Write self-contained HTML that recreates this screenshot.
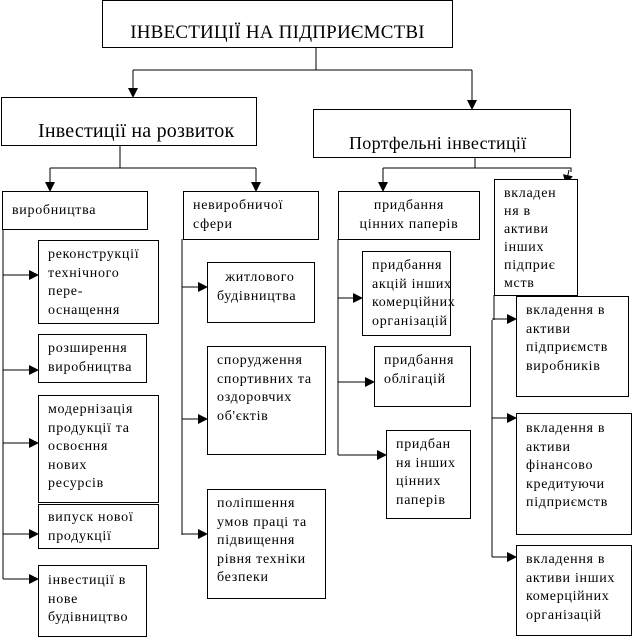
<!DOCTYPE html>
<html><head><meta charset="utf-8"><style>
body{margin:0;width:635px;height:638px;background:#fff;position:relative;overflow:hidden;font-family:"Liberation Serif",serif;color:#000}
.b{position:absolute;border:1px solid #000;box-sizing:border-box;background:#fff;font-size:14px;letter-spacing:0.7px;line-height:18.5px;padding:6px 0 0 9px;white-space:nowrap}
svg{position:absolute;left:0;top:0}
</style></head><body>
<svg width="635" height="638">
<defs><marker id="a" markerWidth="10" markerHeight="10" refX="9" refY="5" orient="auto" markerUnits="userSpaceOnUse"><path d="M0,0 L10,5 L0,10z" fill="#000"/></marker></defs>
<g stroke="#000" stroke-width="1" fill="none">
<path d="M316,47V70M133,70H472"/>
<path d="M133,70V97" marker-end="url(#a)"/><path d="M472,70V109" marker-end="url(#a)"/>
<path d="M120,145V168M50,168H256"/>
<path d="M50,168V191" marker-end="url(#a)"/><path d="M256,168V191" marker-end="url(#a)"/>
<path d="M475,157V168M383,168H571V172"/>
<path d="M383,168V191" marker-end="url(#a)"/><path d="M569,170L566,184" marker-end="url(#a)"/>
<path d="M3,229V579"/>
<path d="M3,275H38" marker-end="url(#a)"/><path d="M3,370H38" marker-end="url(#a)"/><path d="M3,443H38" marker-end="url(#a)"/><path d="M3,534H38" marker-end="url(#a)"/><path d="M3,579H38" marker-end="url(#a)"/>
<path d="M182,239V535"/>
<path d="M182,287H207" marker-end="url(#a)"/><path d="M182,419H207" marker-end="url(#a)"/><path d="M182,534H207" marker-end="url(#a)"/>
<path d="M338,239V455"/>
<path d="M338,298H362" marker-end="url(#a)"/><path d="M338,382H374" marker-end="url(#a)"/><path d="M338,455H386" marker-end="url(#a)"/>
<path d="M494,295V320M492,320V557"/>
<path d="M492,319H516" marker-end="url(#a)"/><path d="M492,418H516" marker-end="url(#a)"/><path d="M492,557H516" marker-end="url(#a)"/>
</g></svg>
<div class="b" style="left:102px;top:0;width:351px;height:48px;font-size:19px;letter-spacing:0.2px;padding:0;text-align:center;line-height:64px">ІНВЕСТИЦІЇ НА ПІДПРИЄМСТВІ</div>
<div class="b" style="left:1px;top:97px;width:256px;height:49px;font-size:20px;letter-spacing:0.2px;padding:0 0 0 36px;line-height:66px">Інвестиції на розвиток</div>
<div class="b" style="left:313px;top:109px;width:258px;height:49px;font-size:18px;letter-spacing:0.3px;padding:0 0 0 35px;line-height:66px">Портфельні інвестиції</div>
<div class="b" style="left:2px;top:191px;width:146px;height:39px;padding-top:10px">виробництва</div>
<div class="b" style="left:183px;top:191px;width:136px;height:49px;padding-top:5px">невиробничої<br>сфери</div>
<div class="b" style="left:338px;top:191px;width:142px;height:49px;padding:5px 0 0;text-align:center">придбання<br>цінних паперів</div>
<div class="b" style="left:494px;top:179px;width:84px;height:117px;line-height:18px;padding-top:5px">вкладен<br>ня в<br>активи<br>інших<br>підприє<br>мств</div>
<div class="b" style="left:38px;top:240px;width:121px;height:84px;padding-top:5px">реконструкції<br>технічного<br>пере-<br>оснащення</div>
<div class="b" style="left:38px;top:334px;width:109px;height:49px;padding-top:5px">розширення<br>виробництва</div>
<div class="b" style="left:38px;top:395px;width:121px;height:108px;padding-top:5px">модернізація<br>продукції та<br>освоєння<br>нових<br>ресурсів</div>
<div class="b" style="left:38px;top:504px;width:121px;height:45px;padding-top:4px">випуск нової<br>продукції</div>
<div class="b" style="left:38px;top:565px;width:109px;height:72px;padding-top:6px">інвестиції в<br>нове<br>будівництво</div>
<div class="b" style="left:207px;top:262px;width:108px;height:61px;padding-top:6px">&nbsp;&nbsp;житлового<br>будівництва</div>
<div class="b" style="left:207px;top:346px;width:119px;height:109px;padding-top:5px">спорудження<br>спортивних та<br>оздоровчих<br>об'єктів</div>
<div class="b" style="left:207px;top:489px;width:119px;height:110px;padding-top:5px">поліпшення<br>умов праці та<br>підвищення<br>рівня техніки<br>безпеки</div>
<div class="b" style="left:362px;top:251px;width:89px;height:85px;padding-top:5px">придбання<br>акцій інших<br>комерційних<br>організацій</div>
<div class="b" style="left:374px;top:346px;width:97px;height:61px;padding-top:5px">придбання<br>облігацій</div>
<div class="b" style="left:386px;top:430px;width:85px;height:89px;padding-top:5px">придбан<br>ня інших<br>цінних<br>паперів</div>
<div class="b" style="left:516px;top:296px;width:113px;height:101px;padding-top:5px">вкладення в<br>активи<br>підприємств<br>виробників</div>
<div class="b" style="left:516px;top:413px;width:116px;height:122px;padding-top:6px">вкладення в<br>активи<br>фінансово<br>кредитуючи<br>підприємств</div>
<div class="b" style="left:516px;top:545px;width:116px;height:91px;padding-top:5px">вкладення в<br>активи інших<br>комерційних<br>організацій</div>
</body></html>
